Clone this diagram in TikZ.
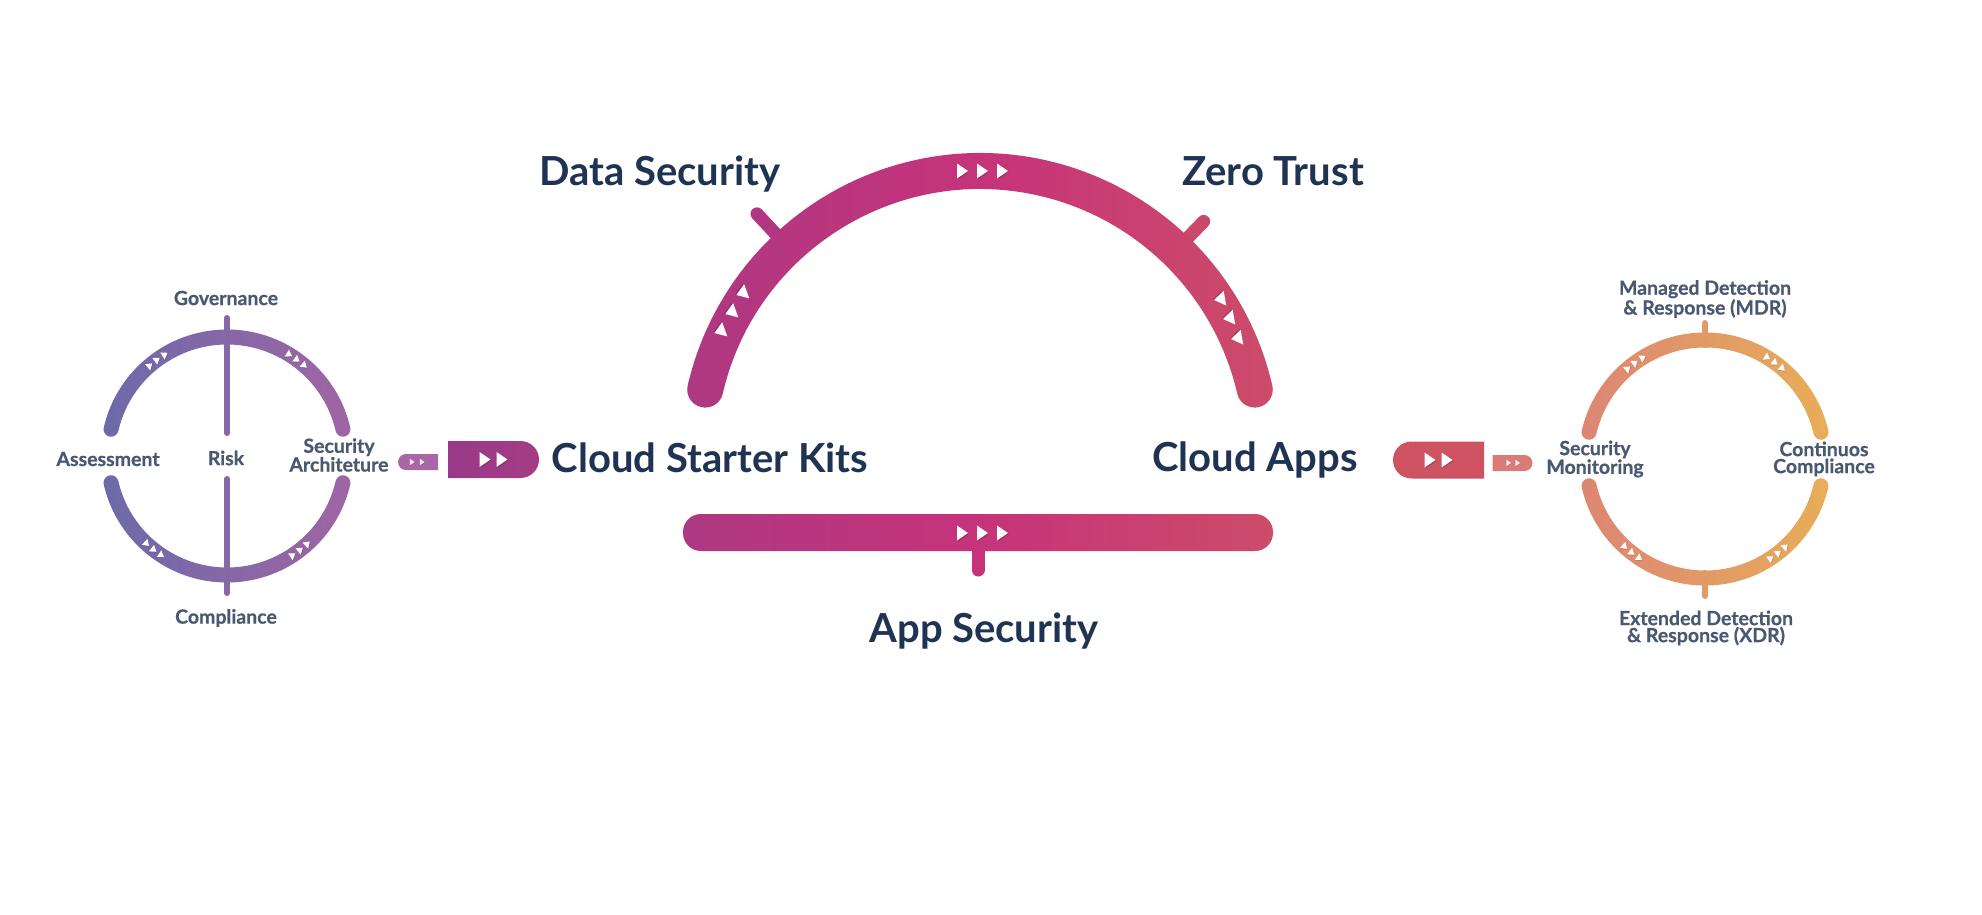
\documentclass[tikz,border=0pt]{standalone}
\usepackage{fontspec}
\setmainfont{Lato}
\newfontfamily\labelfont{Lato}[BoldFeatures={FakeBold=0.6}]
\usetikzlibrary{positioning,calc,shapes.misc}

\definecolor{navy}{HTML}{1F3352}
\definecolor{slate}{HTML}{4A5872}
\definecolor{ringL}{HTML}{6C6AAA}
\definecolor{ringR}{HTML}{A065A3}
\definecolor{riskc}{HTML}{8867A6}
\definecolor{archL}{HTML}{AE3882}
\definecolor{archM}{HTML}{C6337A}
\definecolor{archR}{HTML}{CC4C69}
\definecolor{socL}{HTML}{DC8673}
\definecolor{socR}{HTML}{E7AE58}
\definecolor{socM}{HTML}{E39A68}
\definecolor{kitS}{HTML}{A868A5}
\definecolor{kitL}{HTML}{973A88}
\definecolor{kitR}{HTML}{A53C84}
\definecolor{appB}{HTML}{CF5262}
\definecolor{appS}{HTML}{DB7B79}

% thick arc with round ends and a left-to-right gradient
% #1 centre, #2 radius, #3 start, #4 end, #5 half width, #6/#7 colours
\newcommand{\ringband}[7]{%
  \begin{scope}[shift={(#1)}]
    \pgfmathsetmacro\rout{#2+#5}
    \pgfmathsetmacro\rin{#2-#5}
    \shade[left color=#6, right color=#7]
      (#3:\rout) arc[start angle=#3, end angle=#4, radius=\rout]
      arc[start angle=#4, end angle=#4+180, radius=#5]
      arc[start angle=#4, end angle=#3, radius=\rin]
      arc[start angle=#3+180, end angle=#3+360, radius=#5] -- cycle;
  \end{scope}}

\begin{document}
\begin{tikzpicture}[
    x=1pt, y=1pt,
    big/.style={font=\fontsize{40}{40}\selectfont\bfseries, text=navy, inner sep=0, anchor=base},
    small/.style={font=\labelfont\fontsize{19.5}{17}\selectfont\bfseries, text=slate, inner sep=0, align=center},
    pill/.style={rounded rectangle, draw=none, inner sep=0, minimum height=37, minimum width=91},
    minipill/.style={rounded rectangle, draw=none, inner sep=0, minimum height=16, minimum width=40},
    tri/.pic={\fill[black, opacity=0.18] (-4,-8.5) -- (7,-1) -- (-4,6.5) -- cycle;
              \fill[white] (-5,-7.5) -- (6,0) -- (-5,7.5) -- cycle;},
    archtick/.style={line width=13, line cap=round},
    ringtick/.style={line width=6, line cap=round}
]
\fill[white] (0,0) rectangle (1982,-914);

\coordinate (lc) at (227,-456);
\coordinate (arch) at (980,-453);
\coordinate (rc) at (1705,-459);

% left ring
\draw[ringtick, riskc] (227,-318) -- (227,-433);
\draw[ringtick, riskc] (227,-479) -- (227,-593);
\ringband{lc}{119}{13}{167}{7.5}{ringL}{ringR}
\ringband{lc}{119}{193}{347}{7.5}{ringL}{ringR}
\foreach \a/\t in {126/-90, 54/-90, 232/90, 308/90}
  \foreach \d in {-4.5, 0, 4.5}
    \pic[rotate=\a+\d+\t, scale=0.55] at ($(lc)+(\a+\d:119)$) {tri};

\node[small] (gov) at (226,-298) {Governance};
\node[small] (assess) at (108,-459) {Assessment};
\node[small] (risk) at (226,-458) {Risk};
\node[small] (secarch) at (339,-455) {Security\\Architeture};
\node[small] (comp) at (226,-618) {Compliance};

% pills to the starter kits
\node[minipill, rounded rectangle east arc=none, fill=kitS] (kitmini) at (418,-462) {};
\node[pill, rounded rectangle west arc=none, left color=kitL, right color=kitR] (kitpill) at (493.5,-459.5) {};
\foreach \x in {-6, 4}
  \pic[scale=0.45, opacity=0.85] at ($(kitmini.center)+(\x,0)$) {tri};
\foreach \x in {-9, 8}
  \pic at ($(kitpill.center)+(\x,0)$) {tri};

% main arch
\draw[archtick, archL!85!archM] ($(arch)+(133:282)$) -- ($(arch)+(133:327)$);
\draw[archtick, archR!85!archM] ($(arch)+(46:282)$) -- ($(arch)+(46:322)$);
\shade[left color=archL, right color=archR, middle color=archM] (arch) ++(13:300)
  arc[start angle=13, end angle=167, radius=300]
  arc[start angle=167, end angle=347, radius=18]
  arc[start angle=167, end angle=13, radius=264]
  arc[start angle=193, end angle=373, radius=18] -- cycle;
\foreach \x in {962, 982, 1002}
  \pic at (\x,-171) {tri};
\foreach \p in {(742,-293), (731,-312), (720,-331)}
  \pic[rotate=200] at \p {tri};
\foreach \p in {(1220,-299), (1229,-318), (1237,-338)}
  \pic[rotate=190] at \p {tri};

% app security bar
\draw[archtick, archM] (978,-535) -- (978,-570);
\shade[left color=archL, right color=archR, middle color=archM, rounded corners=18]
  (683,-514) rectangle (1273,-551);
\foreach \x in {962, 982, 1002}
  \pic at (\x,-533) {tri};

\node[big] (datasec) at (660,-185) {Data Security};
\node[big] (zerotrust) at (1273,-185) {Zero Trust};
\node[big] (kits) at (710,-472) {Cloud Starter Kits};
\node[big] (apps) at (1255,-471) {Cloud Apps};
\node[big] (appsec) at (984,-642) {App Security};

% pills to the SOC ring
\node[pill, rounded rectangle east arc=none, fill=appB] (apppill) at (1438.5,-460) {};
\node[minipill, rounded rectangle west arc=none, fill=appS] (appmini) at (1512.5,-463) {};
\foreach \x in {-9, 8}
  \pic at ($(apppill.center)+(\x,0)$) {tri};
\foreach \x in {-4, 5}
  \pic[scale=0.45, opacity=0.85] at ($(appmini.center)+(\x,0)$) {tri};

% right ring
\draw[ringtick, socM] (1705,-345) -- (1705,-323);
\draw[ringtick, socM] (1705,-573) -- (1705,-596);
\ringband{rc}{119}{13}{167}{7.5}{socL}{socR}
\ringband{rc}{119}{193}{347}{7.5}{socL}{socR}
\foreach \a/\t in {126/-90, 54/-90, 232/90, 308/90}
  \foreach \d in {-4.5, 0, 4.5}
    \pic[rotate=\a+\d+\t, scale=0.55] at ($(rc)+(\a+\d:119)$) {tri};

\node[small] (mdr) at (1705,-299) {Managed Detection\\\& Response (MDR)};
\node[small] (secmon) at (1595,-459) {Security\\Monitoring};
\node[small] (contcomp) at (1824,-459) {Continuos\\Compliance};
\node[small] (xdr) at (1706,-628) {Extended Detection\\\& Response (XDR)};

\end{tikzpicture}
\end{document}
